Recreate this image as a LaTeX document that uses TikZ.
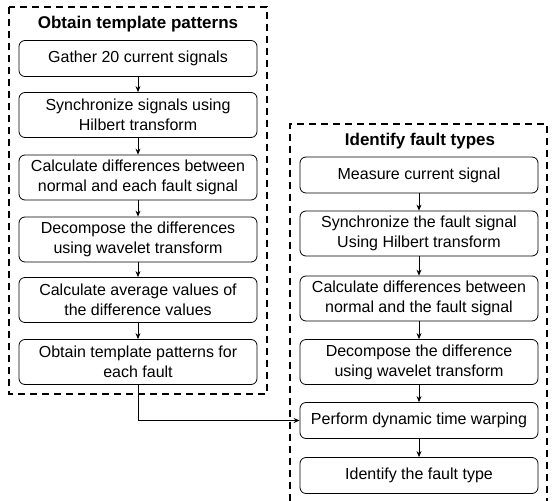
\documentclass[tikz,border=0pt]{standalone}
\usepackage{fontspec}
\setmainfont{Liberation Sans}
\usepackage{tikz}
\usetikzlibrary{arrows.meta}

\tikzset{
  stage/.style={draw, rounded corners=6pt, line width=0.8pt, minimum width=238pt,
    minimum height=36pt, align=center, font=\fontsize{16}{20}\selectfont},
  stagetwo/.style={stage, minimum height=45pt},
  group/.style={dashed, dash pattern=on 7pt off 5pt, line width=1.3pt},
  grouptitle/.style={font=\fontsize{17}{20}\selectfont\bfseries},
  flow/.style={-{Stealth[length=6pt,width=5pt]}, line width=0.8pt}
}

\begin{document}
\begin{tikzpicture}[x=1pt,y=-1pt]
      \useasboundingbox (0,0) rectangle (555,501);
      % left group
      \draw[group] (9,7) rectangle (267,394);
      \node[grouptitle] (tleft) at (138,24) {Obtain template patterns};
      \node[stage]    (l1) at (138,58.5) {Gather 20 current signals};
      \node[stagetwo] (l2) at (138,115) {Synchronize signals using\\Hilbert transform};
      \node[stagetwo] (l3) at (138,177.5) {Calculate differences between\\normal and each fault signal};
      \node[stagetwo] (l4) at (138,239.5) {Decompose the differences\\using wavelet transform};
      \node[stagetwo] (l5) at (138,300) {Calculate average values of\\the difference values};
      \node[stagetwo] (l6) at (138,362) {Obtain template patterns for\\each fault};
      \draw[flow] (l1) -- (l2);
      \draw[flow] (l2) -- (l3);
      \draw[flow] (l3) -- (l4);
      \draw[flow] (l4) -- (l5);
      \draw[flow] (l5) -- (l6);
      % right group
      \draw[group] (290,501) -- (290,124) -- (547,124) -- (547,501);
      \node[grouptitle] (tright) at (420,141) {Identify fault types};
      \node[stage]    (r1) at (419,175) {Measure current signal};
      \node[stagetwo] (r2) at (419,233.5) {Synchronize the fault signal\\Using Hilbert transform};
      \node[stagetwo] (r3) at (419,298.5) {Calculate differences between\\normal and the fault signal};
      \node[stagetwo] (r4) at (419,362) {Decompose the difference\\using wavelet transform};
      \node[stage]    (r5) at (419,420.5) {Perform dynamic time warping};
      \node[stage]    (r6) at (419,475.5) {Identify the fault type};
      \draw[flow] (r1) -- (r2);
      \draw[flow] (r2) -- (r3);
      \draw[flow] (r3) -- (r4);
      \draw[flow] (r4) -- (r5);
      \draw[flow] (r5) -- (r6);
      % templates to matching
      \draw[flow] (l6.south) |- (r5.west);
    \end{tikzpicture}
\end{document}
